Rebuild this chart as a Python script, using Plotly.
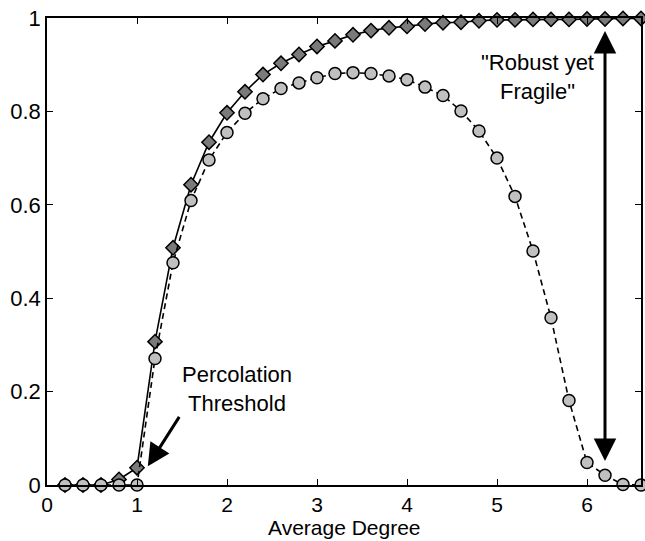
import plotly.graph_objects as go

# Average degree sampled every 0.2
degree = [round(0.2 * i, 1) for i in range(1, 34)]

# Giant component fraction (diamonds, solid line)
giant = [0.0, 0.0, 0.0, 0.012, 0.037, 0.307, 0.508, 0.643, 0.734, 0.797,
         0.842, 0.879, 0.903, 0.922, 0.939, 0.951, 0.964, 0.973, 0.979, 0.982,
         0.987, 0.990, 0.991, 0.994, 0.996, 0.996, 0.997, 0.997, 0.997, 0.998,
         0.998, 0.999, 0.999]

# Fraction under cascade (circles, dashed line)
cascade = [0.0, 0.0, 0.0, 0.0, 0.0, 0.271, 0.476, 0.609, 0.696, 0.755,
           0.796, 0.827, 0.849, 0.861, 0.872, 0.881, 0.883, 0.881, 0.876, 0.868,
           0.852, 0.834, 0.801, 0.758, 0.700, 0.618, 0.501, 0.358, 0.181, 0.048,
           0.021, 0.001, 0.0]

x_ticks = [0, 1, 2, 3, 4, 5, 6]
y_ticks = [0, 0.2, 0.4, 0.6, 0.8, 1]

FONT = "Liberation Sans, Arial, Helvetica, sans-serif"
FSIZE = 22

fig = go.Figure()

fig.add_trace(go.Scatter(
    x=degree, y=giant, mode="lines+markers",
    line=dict(color="black", width=1.6),
    marker=dict(symbol="diamond", size=11, color="#7a7a7a",
                line=dict(color="black", width=1.5)),
    cliponaxis=False, showlegend=False,
))

fig.add_trace(go.Scatter(
    x=degree, y=cascade, mode="lines+markers",
    line=dict(color="black", width=1.6, dash="6px,4px"),
    marker=dict(symbol="circle", size=12, color="#c0c0c0",
                line=dict(color="black", width=1.5)),
    cliponaxis=False, showlegend=False,
))

# Percolation threshold label and arrow
fig.add_annotation(
    x=1.12, y=0.04, ax=1.48, ay=0.149, xref="x", yref="y", axref="x", ayref="y",
    text="", showarrow=True, arrowhead=2, arrowsize=1.5, arrowwidth=3,
    arrowcolor="black",
)
fig.add_annotation(
    x=2.11, y=0.205, xref="x", yref="y", showarrow=False,
    text="Percolation<br>Threshold", font=dict(family=FONT, size=FSIZE, color="black"),
)

# "Robust yet Fragile" double-headed arrow
fig.add_annotation(
    x=6.2, y=0.972, ax=6.2, ay=0.048, xref="x", yref="y", axref="x", ayref="y",
    text="", showarrow=True, arrowhead=2, startarrowhead=2, arrowside="end+start",
    arrowsize=1.5, startarrowsize=1.5, arrowwidth=3, arrowcolor="black",
)
fig.add_annotation(
    x=5.45, y=0.873, xref="x", yref="y", showarrow=False,
    text="\"Robust yet<br>Fragile\"", font=dict(family=FONT, size=FSIZE, color="black"),
)

# x-axis title, set at the bottom edge of the figure
fig.add_annotation(
    x=0.5, y=0, xref="paper", yref="paper", xanchor="center", yanchor="top",
    yshift=-30, showarrow=False, borderpad=0,
    text="Average Degree", font=dict(family=FONT, size=21, color="black"),
)

axis_common = dict(
    showgrid=False, zeroline=False, showline=True, linecolor="black", linewidth=1.5,
    mirror="ticks", ticks="inside", ticklen=6, tickwidth=1, tickcolor="black",
)

fig.update_xaxes(
    range=[0, 6.6], tickvals=x_ticks, ticktext=[str(v) for v in x_ticks],
    tickfont=dict(family=FONT, size=21, color="black"),
    **axis_common,
)
fig.update_yaxes(
    range=[0, 1], tickvals=y_ticks, ticktext=["0", "0.2", "0.4", "0.6", "0.8", "1"],
    tickfont=dict(family=FONT, size=FSIZE, color="black"),
    **axis_common,
)

fig.update_layout(
    width=645, height=541,
    margin=dict(l=47, r=4, t=18, b=56, autoexpand=False),
    paper_bgcolor="white", plot_bgcolor="white",
    font=dict(family=FONT, color="black"),
)

fig.write_html("out.html")
